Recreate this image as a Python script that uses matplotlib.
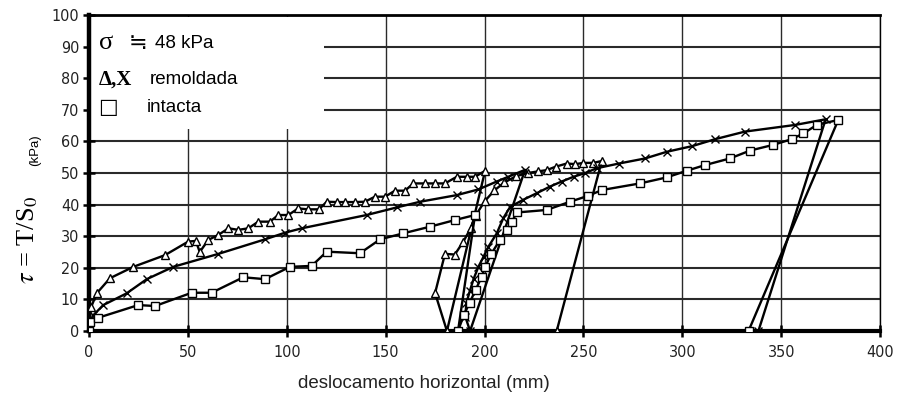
import numpy as np
import matplotlib.pyplot as plt
from matplotlib import font_manager
from matplotlib.patches import Rectangle

# shear stress vs horizontal displacement, ring shear at 48 kPa
tri_x = [0, 1, 4, 10.6, 22.4, 38.4, 50.2, 54, 56, 60.3, 65.4, 70.5, 75.5, 80.6, 85.6,
         91.5, 95.7, 100.8, 105.8, 110.6, 116.3, 120.2, 125.2, 129.4, 134.4, 139.5,
         144.6, 149.7, 154.7, 159.8, 164, 169.9, 175, 180, 186, 191, 195.2, 200.3,
         181, 175, 180, 185, 189.3, 193, 195.5, 200, 205, 210, 216, 222, 227, 231.4,
         236, 241.6, 246, 250, 255, 259.3,
         236.5]
tri_y = [0, 7.5, 12, 16.7, 20.3, 24, 28.3, 28.5, 25, 28.8, 30.4, 32.5, 32, 32.5, 34.6,
         34.6, 36.7, 36.7, 38.8, 38.5, 38.5, 40.9, 40.8, 40.8, 40.8, 40.9,
         42.5, 42.5, 44.4, 44.4, 46.7, 46.7, 46.7, 46.7, 48.8, 48.8, 48.8, 50.7,
         0, 12, 24.4, 24.2, 28.3, 32.5, 36.5, 41, 44.5, 47, 49, 50, 50.5, 50.9,
         52, 53, 52.8, 53.2, 53.2, 53.8,
         0]

cr_x = [0, 2.2, 7.2, 19, 29.2, 42.6, 65.4, 89, 99.1, 107.6, 140.4, 155.6, 167.4, 186,
        196.9, 206.2, 212, 220.5,
        192.7, 190.3, 190.8, 192.5, 194.5, 196.9, 199.5, 202, 206.2, 209.5, 213, 219.5,
        226.4, 233.1, 239, 245, 251, 256.7, 268, 281.2, 292.1, 305, 316.6, 331.7, 357,
        372.5,
        338.5]
cr_y = [0, 5, 8.2, 11.9, 16.4, 20.3, 24.4, 29, 31.1, 32.5, 36.7, 39.1, 40.9, 43,
        44.8, 47.3, 48.8, 51,
        0, 4.5, 8.8, 12.5, 16.5, 20.3, 23.5, 26.7, 30.9, 35.7, 39.3, 41.5,
        43.6, 45.7, 47.3, 48.8, 50, 51.5, 53, 54.6, 56.7, 58.5, 60.7, 63.1, 65.2,
        67,
        0]

sq_x = [0, 0.5, 4.7, 24.9, 33.4, 51.9, 62, 78, 89, 101.6, 112.6, 120.2, 137, 147.2,
        158.9, 172.4, 185, 195.2,
        186.6, 189.5, 192.5, 195.5, 198.6, 200.3, 203.5, 207.8, 211.2, 213.8, 216.3,
        231.4, 243.2, 252.5, 259.3, 278.6, 292.1, 302.2, 311.5, 324.1, 334.3, 346,
        355.3, 361.2, 368, 378.9,
        333.5]
sq_y = [0, 3, 4.2, 8.2, 7.9, 12.1, 12.1, 17, 16.4, 20.3, 20.6, 25.1, 24.6, 29,
        30.9, 33, 35.1, 36.7,
        0, 5, 9, 13, 17.2, 20.3, 24.5, 28.8, 32, 34.5, 37.5,
        38.3, 40.9, 42.8, 44.6, 46.7, 48.6, 50.7, 52.5, 54.6, 57.1, 58.9,
        60.7, 62.5, 65.2, 66.8,
        0]

x_ticks = np.arange(0, 401, 50)
y_ticks = np.arange(0, 101, 10)

names = {f.name for f in font_manager.fontManager.ttflist}
tick_font = 'Liberation Sans Narrow' if 'Liberation Sans Narrow' in names else 'DejaVu Sans'

fig = plt.figure(figsize=(9, 4.01), dpi=100)
ax = fig.add_axes([0.0989, 0.1746, 0.8789, 0.788])

ax.plot(tri_x, tri_y, color='k', lw=1.7, marker='^', ms=6, mfc='white',
        mec='k', mew=1.0, zorder=5)
ax.plot(cr_x, cr_y, color='k', lw=1.7, marker='x', ms=6, mew=1.0, zorder=5)
ax.plot(sq_x, sq_y, color='k', lw=1.7, marker='s', ms=5.5, mfc='white',
        mec='k', mew=1.0, zorder=5)

ax.set_xlim(0, 400)
ax.set_ylim(0, 100)
ax.set_xticks(x_ticks)
ax.set_yticks(y_ticks)
ax.grid(axis='y', color='#2a2a2a', lw=1.5, zorder=1)
ax.grid(axis='x', color='#2a2a2a', lw=1.0, zorder=1)
ax.set_axisbelow(True)

# blank the grid behind the key text
ax.add_patch(Rectangle((0.8, 64), 118, 35.5, facecolor='white',
                       edgecolor='none', zorder=1.5))

ax.spines['left'].set_linewidth(3.2)
ax.spines['bottom'].set_linewidth(3.0)
ax.spines['top'].set_linewidth(2.0)
ax.spines['right'].set_linewidth(1.0)
ax.tick_params(axis='both', direction='inout', length=8, width=1.8,
               labelsize=11.5, colors='k')
ax.tick_params(axis='y', pad=3)
ax.tick_params(axis='x', pad=6)
for lab in ax.get_xticklabels() + ax.get_yticklabels():
    lab.set_fontfamily(tick_font)
    lab.set_fontstretch('condensed')
    lab.set_color('#222222')

# key text
ax.text(5, 91, 'σ', fontsize=19, family='Liberation Serif', va='center', zorder=6)
ax.text(20, 91, '≒', fontsize=16, family='DejaVu Sans', va='center', zorder=6)
ax.text(33.4, 91, '48 kPa', fontsize=13.5, family='Liberation Sans', va='center', zorder=6)
ax.text(5, 79.5, 'Δ,X', fontsize=15, family='Liberation Serif', weight='bold',
        va='center', zorder=6)
ax.text(30.8, 79.5, 'remoldada', fontsize=13.5, family='Liberation Sans',
        va='center', zorder=6)
ax.text(4.5, 70.8, '□', fontsize=15, family='DejaVu Sans', va='center', zorder=6)
ax.text(29.3, 70.8, 'intacta', fontsize=13.5, family='Liberation Sans',
        va='center', zorder=6)

fig.text(424 / 900, 1 - 383 / 401, 'deslocamento horizontal (mm)', fontsize=13.5,
         family='Liberation Sans', ha='center', va='center', color='#222222')
fig.text(28 / 900, 1 - 240 / 401, r'$\tau$ = T/S$_0$', fontsize=19,
         family='Liberation Serif', math_fontfamily='stix', rotation=90,
         ha='center', va='center')
fig.text(35 / 900, 1 - 150 / 401, '(kPa)', fontsize=9.5, family='Liberation Sans',
         rotation=90, ha='center', va='center')

fig.savefig('out.png', dpi=100)
